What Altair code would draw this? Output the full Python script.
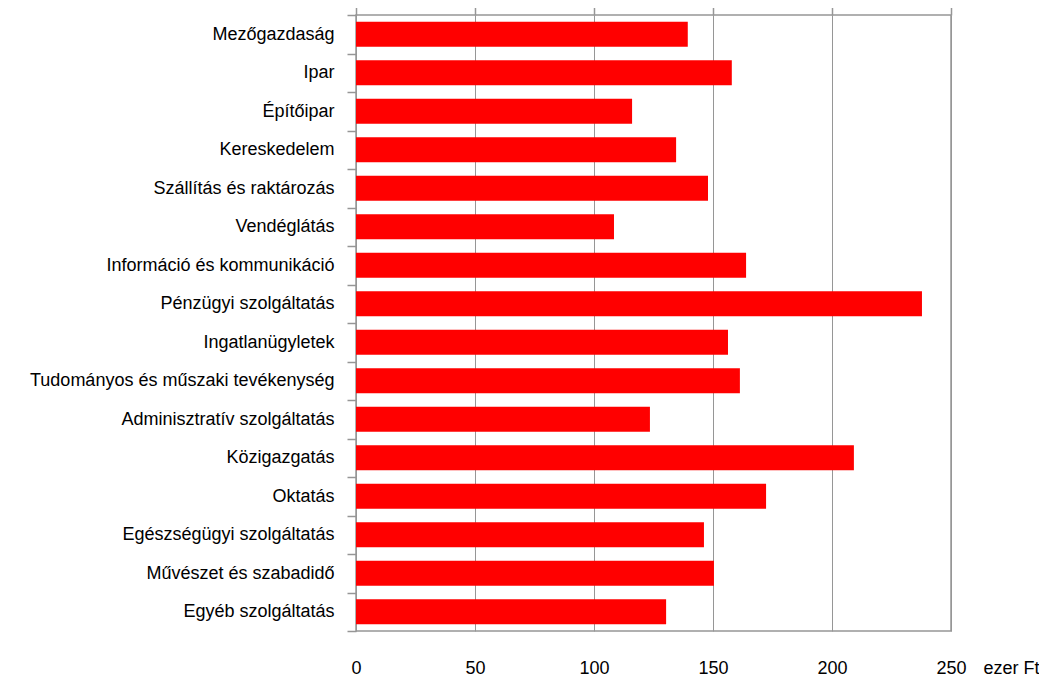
import altair as alt
import pandas as pd

categories = [
    "Mezőgazdaság",
    "Ipar",
    "Építőipar",
    "Kereskedelem",
    "Szállítás és raktározás",
    "Vendéglátás",
    "Információ és kommunikáció",
    "Pénzügyi szolgáltatás",
    "Ingatlanügyletek",
    "Tudományos és műszaki tevékenység",
    "Adminisztratív szolgáltatás",
    "Közigazgatás",
    "Oktatás",
    "Egészségügyi szolgáltatás",
    "Művészet és szabadidő",
    "Egyéb szolgáltatás",
]
values = [139.4, 157.9, 116.0, 134.5, 147.9, 108.4, 163.9, 237.8,
          156.3, 161.3, 123.5, 209.2, 172.3, 146.2, 150.4, 130.3]
x_ticks = [0, 50, 100, 150, 200, 250]
x_unit = "ezer Ft"

df = pd.DataFrame({"cat": categories, "val": values})

GRAY = "#969696"
FONT = "Liberation Sans"

xscale = alt.Scale(domain=[0, 250], nice=False, zero=True)
yscale = alt.Scale(paddingInner=0, paddingOuter=0)

bars = alt.Chart(df).mark_bar(color="#FF0000", height=alt.RelativeBandSize(0.65)).encode(
    x=alt.X("val:Q", scale=xscale,
            axis=alt.Axis(orient="bottom", values=x_ticks, grid=True, gridColor=GRAY,
                          gridWidth=1, domain=False, ticks=False, tickSize=0,
                          labelFontSize=18, labelFont=FONT, labelColor="#000000",
                          labelPadding=37, labelBaseline="middle", labelFlush=False,
                          title=x_unit, titleFont=FONT, titleFontSize=18,
                          titleFontWeight="normal", titleColor="#000000",
                          titleX=627, titleY=37, titleAlign="left",
                          titleBaseline="middle", titleAnchor="start")),
    y=alt.Y("cat:N", sort=None, scale=yscale,
            axis=alt.Axis(title=None, tickBand="extent", domain=False, ticks=True,
                          tickSize=9, tickColor=GRAY, tickWidth=1.5, grid=False,
                          labelFontSize=18, labelFont=FONT, labelColor="#000000",
                          labelPadding=13, labelLimit=400)),
)

top = alt.Chart(df).mark_rule(opacity=0).encode(
    x=alt.X("val:Q", scale=xscale,
            axis=alt.Axis(orient="top", values=x_ticks, grid=False, domain=False,
                          ticks=True, tickSize=9, tickColor=GRAY, tickWidth=1.5,
                          labels=False, title=None)),
)

chart = alt.layer(bars, top).resolve_axis(x="independent").properties(
    width=595,
    height=616,
    autosize=alt.AutoSizeParams(type="none"),
    padding={"left": 348, "top": 7, "right": 88, "bottom": 46},
).configure_view(stroke=GRAY, strokeWidth=1.5)

chart.save("out.html", embed_options={"renderer": "svg", "actions": False})
